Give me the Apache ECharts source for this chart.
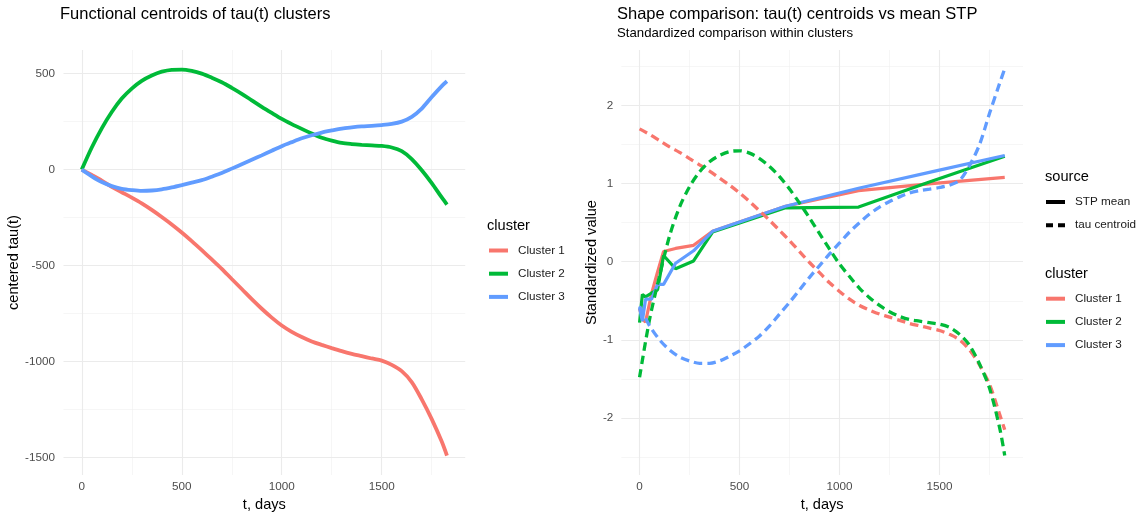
<!DOCTYPE html>
<html>
<head>
<meta charset="utf-8">
<script src="https://cdn.jsdelivr.net/npm/echarts@6/dist/echarts.min.js"></script>
<style>
  html, body { margin: 0; padding: 0; background: #ffffff; }
  #chart { width: 1142px; height: 512px; }
</style>
</head>
<body>
<div id="chart"></div>
<script>
// ---- data ----------------------------------------------------------------
const clusters = ['Cluster 1', 'Cluster 2', 'Cluster 3'];
const clusterColors = ['#F8766D', '#00BA38', '#619CFF'];

// evaluation grid of the functional centroids (days)
const tauDays = [0, 50, 100, 150, 200, 250, 300, 350, 400, 450, 500, 550, 600, 650, 700, 750,
                 800, 850, 900, 950, 1000, 1050, 1100, 1150, 1200, 1250, 1300, 1350, 1400, 1450,
                 1500, 1550, 1600, 1650, 1700, 1750, 1800, 1826];

// centered tau(t) centroids
const tauCentered1 = [0, -28, -57, -90, -118, -146, -176, -210, -247, -286, -328, -373, -420, -468, -517, -570,
                      -622, -675, -725, -771, -812, -845, -872, -895, -913, -930, -946, -960, -972, -984,
                      -995, -1017, -1050, -1107, -1197, -1300, -1417, -1490];
const tauCentered2 = [0, 115, 215, 300, 370, 422, 462, 490, 510, 520, 521, 514, 500, 479, 455, 426,
                      395, 361, 327, 295, 264, 237, 212, 188, 166, 151, 139, 133, 129, 126,
                      123, 115, 96, 55, -3, -70, -145, -182];
const tauCentered3 = [0, -35, -65, -86, -100, -107, -111, -109, -103, -93, -81, -68, -55, -37, -18, 5,
                      28, 51, 74, 98, 122, 143, 163, 179, 193, 204, 214, 220, 225, 228,
                      232, 238, 250, 275, 318, 378, 435, 460];

// standardized tau(t) centroids
const tauStd1 = [1.70, 1.63, 1.55, 1.47, 1.40, 1.32, 1.24, 1.16, 1.07, 0.98, 0.88, 0.77, 0.65, 0.53, 0.40, 0.27,
                 0.13, -0.01, -0.14, -0.27, -0.38, -0.48, -0.56, -0.62, -0.67, -0.71, -0.75, -0.79, -0.82, -0.85,
                 -0.88, -0.93, -1.00, -1.13, -1.32, -1.57, -1.95, -2.15];
const tauStd2 = [-1.48, -0.74, -0.18, 0.33, 0.70, 0.96, 1.15, 1.28, 1.36, 1.41, 1.42, 1.39, 1.32, 1.22, 1.09, 0.93,
                 0.75, 0.56, 0.36, 0.16, -0.03, -0.19, -0.34, -0.46, -0.56, -0.64, -0.70, -0.74, -0.76, -0.78,
                 -0.80, -0.84, -0.93, -1.07, -1.31, -1.62, -2.12, -2.48];
const tauStd3 = [-0.57, -0.82, -1.00, -1.13, -1.22, -1.27, -1.30, -1.30, -1.27, -1.21, -1.14, -1.05, -0.95, -0.82, -0.67, -0.52,
                 -0.36, -0.20, -0.05, 0.10, 0.24, 0.38, 0.50, 0.61, 0.70, 0.77, 0.83, 0.88, 0.91, 0.93,
                 0.95, 0.98, 1.04, 1.23, 1.50, 1.90, 2.28, 2.47];

// standardized mean STP at the visit days
const stpDays = [0, 14, 30, 60, 90, 120, 180, 270, 365, 730, 1095, 1460, 1826];
const stpStd1 = [-0.60, -0.74, -0.77, -0.41, -0.13, 0.13, 0.17, 0.21, 0.39, 0.71, 0.91, 1.00, 1.08];
const stpStd2 = [-0.78, -0.42, -0.45, -0.40, -0.36, 0.08, -0.09, 0.01, 0.38, 0.69, 0.70, 1.03, 1.35];
const stpStd3 = [-0.59, -0.76, -0.48, -0.48, -0.29, -0.29, -0.02, 0.14, 0.39, 0.71, 0.94, 1.15, 1.36];

// axis ticks
const dayTicks = [0, 500, 1000, 1500];
const dayMinor = [250, 750, 1250, 1750];
const tauTicks = [-1500, -1000, -500, 0, 500];
const tauMinor = [-1250, -750, -250, 250];
const stdTicks = [-2, -1, 0, 1, 2];
const stdMinor = [-2.5, -1.5, -0.5, 0.5, 1.5, 2.5];

// ---- helpers -------------------------------------------------------------
const FONT = '"Liberation Sans", Arial, Helvetica, sans-serif';
const zip = (xs, ys) => xs.map((x, i) => [x, ys[i]]);
const tickFormatter = ticks => v => (ticks.some(t => Math.abs(t - v) < 1e-9) ? String(v) : '');

// panel grid lines drawn as mark lines on an empty helper series
function gridLines(axisIdx, xVals, yVals, color, width) {
  return {
    type: 'line', xAxisIndex: axisIdx, yAxisIndex: axisIdx, data: [], silent: true, z: 0,
    markLine: {
      silent: true, symbol: 'none', animation: false,
      label: { show: false }, emphasis: { disabled: true },
      lineStyle: { color: color, width: width, type: 'solid' },
      data: xVals.map(v => ({ xAxis: v })).concat(yVals.map(v => ({ yAxis: v })))
    }
  };
}

function valueAxis(grid, min, max, ticks, name, nameGap, labelMargin) {
  return {
    type: 'value', gridIndex: grid, min: min, max: max,
    axisLine: { show: false }, axisTick: { show: false }, splitLine: { show: false },
    axisLabel: {
      formatter: tickFormatter(ticks), margin: labelMargin, color: '#4D4D4D',
      fontSize: 11.7, fontFamily: FONT, showMinLabel: false, showMaxLabel: false
    },
    name: name, nameLocation: 'middle', nameGap: nameGap,
    nameTextStyle: { fontSize: 14.6, color: '#000000', fontFamily: FONT }
  };
}

const series = [
  gridLines(0, dayMinor, tauMinor, '#F0F0F0', 0.6),
  gridLines(0, dayTicks, tauTicks, '#EBEBEB', 1.1),
  gridLines(1, dayMinor, stdMinor, '#F0F0F0', 0.6),
  gridLines(1, dayTicks, stdTicks, '#EBEBEB', 1.1)
];

// left panel: centered centroids
[tauCentered1, tauCentered2, tauCentered3].forEach((vals, i) => {
  series.push({
    type: 'line', name: clusters[i], xAxisIndex: 0, yAxisIndex: 0, z: 10,
    data: zip(tauDays, vals), smooth: 0.3, showSymbol: false, symbol: 'none',
    itemStyle: { color: clusterColors[i] },
    lineStyle: { color: clusterColors[i], width: 3.8 }
  });
});

// right panel: mean STP (solid)
[stpStd1, stpStd2, stpStd3].forEach((vals, i) => {
  series.push({
    type: 'line', name: clusters[i], xAxisIndex: 1, yAxisIndex: 1, z: 10,
    data: zip(stpDays, vals), showSymbol: false, symbol: 'none',
    itemStyle: { color: clusterColors[i] },
    lineStyle: { color: clusterColors[i], width: 3.2 }
  });
});

// right panel: tau centroids (dashed)
[tauStd1, tauStd2, tauStd3].forEach((vals, i) => {
  series.push({
    type: 'line', name: clusters[i], xAxisIndex: 1, yAxisIndex: 1, z: 11,
    data: zip(tauDays, vals), smooth: 0.3, showSymbol: false, symbol: 'none',
    itemStyle: { color: clusterColors[i] },
    lineStyle: { color: clusterColors[i], width: 3.3, type: [8.5, 5], cap: 'butt' }
  });
});

// keys of the "source" legend
series.push({ type: 'line', name: 'STP mean', xAxisIndex: 1, yAxisIndex: 1, data: [],
              itemStyle: { color: '#000000' }, lineStyle: { color: '#000000' } });
series.push({ type: 'line', name: 'tau centroid', xAxisIndex: 1, yAxisIndex: 1, data: [],
              itemStyle: { color: '#000000' }, lineStyle: { color: '#000000' } });

const legendBase = {
  orient: 'vertical', padding: 0, itemWidth: 19, itemHeight: 4, itemGap: 9.2,
  selectedMode: false, icon: 'rect',
  textStyle: { fontSize: 11.7, color: '#1A1A1A', fontFamily: FONT, lineHeight: 14, padding: [0, 0, 0, 5] }
};

const titleStyle = { fontSize: 14.6, fontWeight: 'normal', color: '#000000', fontFamily: FONT };

const option = {
  animation: false,
  backgroundColor: '#ffffff',
  title: [
    { text: 'Functional centroids of tau(t) clusters', left: 60, top: 6, padding: 0,
      textStyle: { fontSize: 16.5, fontWeight: 'normal', color: '#000000', fontFamily: FONT } },
    { text: 'Shape comparison: tau(t) centroids vs mean STP', subtext: 'Standardized comparison within clusters',
      left: 617, top: 6, padding: 0, itemGap: 4,
      textStyle: { fontSize: 16.5, fontWeight: 'normal', color: '#000000', fontFamily: FONT },
      subtextStyle: { fontSize: 13.2, color: '#000000', fontFamily: FONT } },
    { text: 'cluster', left: 487, top: 218.2, padding: 0, textStyle: titleStyle },
    { text: 'source', left: 1045, top: 169.9, padding: 0, textStyle: titleStyle },
    { text: 'cluster', left: 1045, top: 266.5, padding: 0, textStyle: titleStyle }
  ],
  legend: [
    Object.assign({}, legendBase, { left: 489, top: 243.5, data: clusters }),
    Object.assign({}, legendBase, { left: 1046, top: 195, data: [
      { name: 'STP mean', icon: 'rect' },
      { name: 'tau centroid', icon: 'path://M0,0H7V4H0Z M12,0H19V4H12Z' }
    ] }),
    Object.assign({}, legendBase, { left: 1046, top: 291.7, data: clusters })
  ],
  grid: [
    { left: 63.5, top: 50, width: 401.7, height: 425, outerBoundsMode: 'none', containLabel: false },
    { left: 621.3, top: 50, width: 401.7, height: 425, outerBoundsMode: 'none', containLabel: false }
  ],
  xAxis: [
    valueAxis(0, -91.3, 1917.3, dayTicks, 't, days', 19, 6),
    valueAxis(1, -91.3, 1917.3, dayTicks, 't, days', 19, 6)
  ],
  yAxis: [
    valueAxis(0, -1591, 623, tauTicks, 'centered tau(t)', 38, 8.5),
    valueAxis(1, -2.73, 2.71, stdTicks, 'Standardized value', 22, 8)
  ],
  series: series
};

const chart = echarts.init(document.getElementById('chart'), null, { renderer: 'canvas' });
chart.setOption(option);
</script>
</body>
</html>
